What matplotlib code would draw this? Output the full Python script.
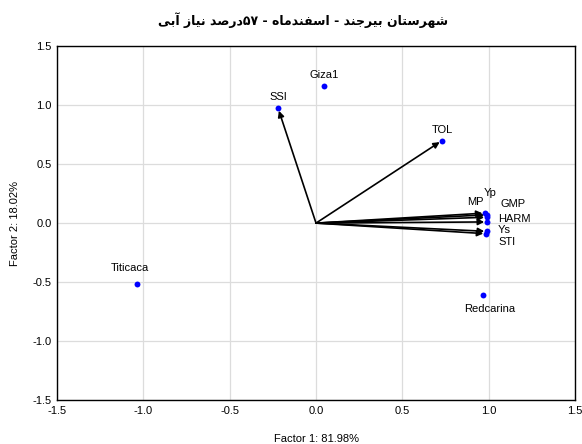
import matplotlib
matplotlib.use("Agg")
import matplotlib.pyplot as plt

# ---------------- data ----------------
labels = ["Giza1", "SSI", "TOL", "Titicaca", "Redcarina",
          "MP", "Yp", "GMP", "HARM", "Ys", "STI"]
factor1 = [0.045, -0.22, 0.73, -1.035, 0.965,
           0.98, 0.99, 0.99, 0.99, 0.99, 0.985]
factor2 = [1.165, 0.975, 0.70, -0.52, -0.61,
           0.085, 0.07, 0.05, 0.01, -0.07, -0.09]
arrow_vars = ["SSI", "TOL", "MP", "Yp", "GMP", "HARM", "Ys", "STI"]
xlabel = "Factor 1: 81.98%"
ylabel = "Factor 2: 18.02%"
# logical (reading) order, right to left
title_words = ["شهرستان", "بیرجند", "-", "اسفندماه", "-", "۵۷|درصد", "نیاز", "آبی"]
ticks = [-1.5, -1.0, -0.5, 0.0, 0.5, 1.0, 1.5]

# ---------------- simple Persian shaper ----------------
FORMS = {  # isolated, final, initial, medial
    'ش': ('\uFEB5', '\uFEB6', '\uFEB7', '\uFEB8'),
    'ه': ('\uFEE9', '\uFEEA', '\uFEEB', '\uFEEC'),
    'س': ('\uFEB1', '\uFEB2', '\uFEB3', '\uFEB4'),
    'ت': ('\uFE95', '\uFE96', '\uFE97', '\uFE98'),
    'ن': ('\uFEE5', '\uFEE6', '\uFEE7', '\uFEE8'),
    'ب': ('\uFE8F', '\uFE90', '\uFE91', '\uFE92'),
    'ی': ('\uFEEF', '\uFEF0', '\uFEF3', '\uFEF4'),
    'ج': ('\uFE9D', '\uFE9E', '\uFE9F', '\uFEA0'),
    'ف': ('\uFED1', '\uFED2', '\uFED3', '\uFED4'),
    'م': ('\uFEE1', '\uFEE2', '\uFEE3', '\uFEE4'),
    'ص': ('\uFEB9', '\uFEBA', '\uFEBB', '\uFEBC'),
    'ر': ('\uFEAD', '\uFEAE', None, None),
    'ا': ('\uFE8D', '\uFE8E', None, None),
    'د': ('\uFEA9', '\uFEAA', None, None),
    'ز': ('\uFEAF', '\uFEB0', None, None),
    'آ': ('\uFE81', '\uFE82', None, None),
}


def shape_word(w):
    out = []
    n = len(w)
    for i, c in enumerate(w):
        if c not in FORMS:
            out.append(c)
            continue
        f = FORMS[c]
        prev_join = i > 0 and w[i - 1] in FORMS and FORMS[w[i - 1]][2] is not None
        next_join = (f[2] is not None) and i < n - 1 and w[i + 1] in FORMS
        if prev_join and next_join:
            g = f[3]
        elif prev_join:
            g = f[1]
        elif next_join:
            g = f[2]
        else:
            g = f[0]
        out.append(g)
    return "".join(reversed(out))


def visual(words):
    parts = []
    for w in reversed(words):
        if "|" in w:
            num, word = w.split("|")
            parts.append(shape_word(word) + num)
        else:
            parts.append(shape_word(w))
    return " ".join(parts)


# ---------------- figure ----------------
plt.rcParams['font.family'] = ['Liberation Sans', 'DejaVu Sans']
fig = plt.figure(figsize=(5.82, 4.44), dpi=100)
ax = fig.add_axes([0.098, 0.099, 0.890, 0.797])
ax.set_xlim(-1.5, 1.5)
ax.set_ylim(-1.5, 1.5)
ax.set_xticks(ticks)
ax.set_yticks(ticks)
ax.set_xticklabels([f"{t:.1f}" for t in ticks])
ax.set_yticklabels([f"{t:.1f}" for t in ticks])
ax.grid(True, color="#dcdcdc", linewidth=0.9)
ax.set_axisbelow(True)
ax.tick_params(length=0, labelsize=8, pad=4)
for s in ax.spines.values():
    s.set_linewidth(1.0)
    s.set_color("black")

idx = {n: i for i, n in enumerate(labels)}
for v in arrow_vars:
    i = idx[v]
    ax.annotate("", xy=(factor1[i], factor2[i]), xytext=(0, 0),
                arrowprops=dict(arrowstyle="-|>", color="black", lw=1.2,
                                mutation_scale=9, shrinkA=0, shrinkB=2))

ax.scatter(factor1, factor2, s=18, color="#0000ff", zorder=5, linewidths=0)

offsets = {
    "Giza1": (0, 11, "center"), "SSI": (0, 11, "center"), "TOL": (0, 11, "center"),
    "Titicaca": (-7, 16, "center"), "Redcarina": (7, -14, "center"),
    "MP": (-10, 11, "center"), "Yp": (3, 22, "center"), "GMP": (14, 13, "left"),
    "HARM": (11, 3, "left"), "Ys": (11, 1, "left"), "STI": (12, -8, "left"),
}
for n, (dx, dy, ha) in offsets.items():
    i = idx[n]
    ax.annotate(n, xy=(factor1[i], factor2[i]), xytext=(dx, dy),
                textcoords="offset pixels", ha=ha, va="center", fontsize=8)

ax.set_xlabel(xlabel, fontsize=8, labelpad=13)
ax.set_ylabel(ylabel, fontsize=8, labelpad=9)

fig.text(0.52, 0.955, visual(title_words), ha="center", va="center",
         fontsize=9, fontweight="bold", family=["DejaVu Sans"])

fig.savefig("out.png", dpi=100)
